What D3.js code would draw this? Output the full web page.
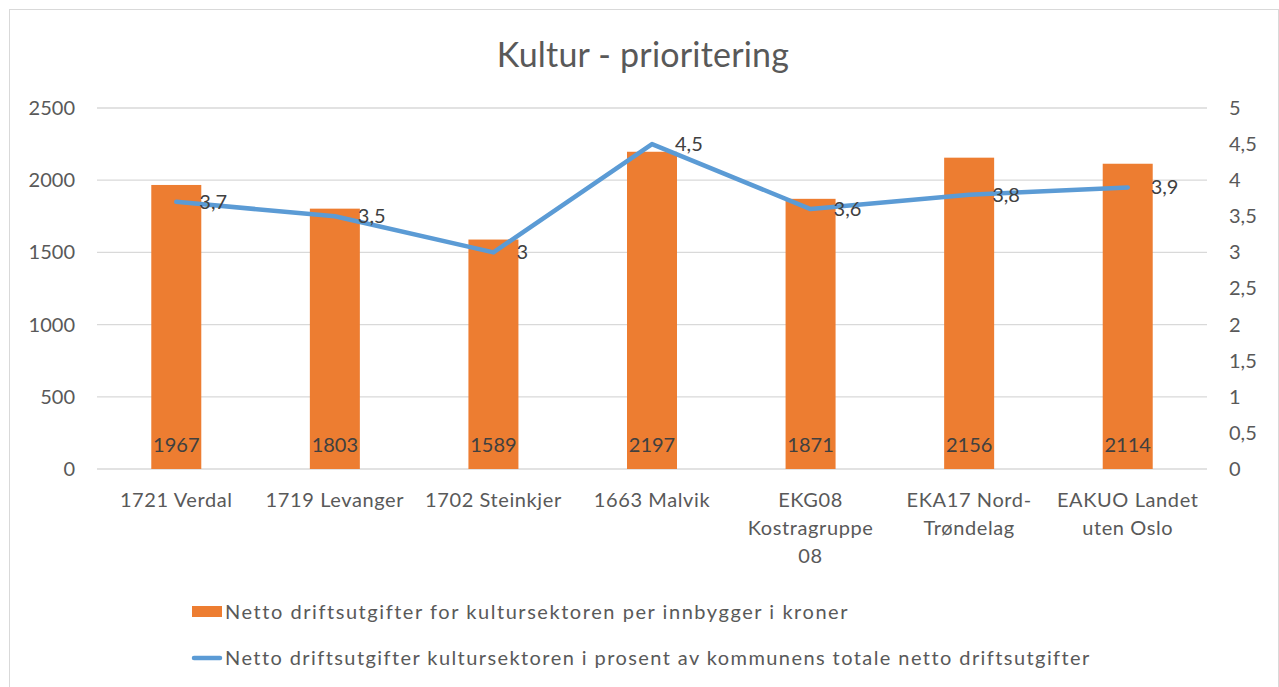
<!DOCTYPE html>
<html>
<head>
<meta charset="utf-8">
<script src="https://cdn.jsdelivr.net/npm/d3@7"></script>
<style>
  body { margin: 0; background: #fff; }
  text { font-family: "Lato", "Open Sans", sans-serif; fill: #595959; }
</style>
</head>
<body>
<script>
(function() {

	// data
	var categories = ["1721 Verdal", "1719 Levanger", "1702 Steinkjer", "1663 Malvik",
		"EKG08 Kostragruppe 08", "EKA17 Nord-Trøndelag", "EAKUO Landet uten Oslo"];
	var kroner = [1967, 1803, 1589, 2197, 1871, 2156, 2114];
	var prosent = [3.7, 3.5, 3.0, 4.5, 3.6, 3.8, 3.9];
	var leftTicks = [0, 500, 1000, 1500, 2000, 2500];
	var rightTicks = [0, 0.5, 1, 1.5, 2, 2.5, 3, 3.5, 4, 4.5, 5];
	var seriesNames = ["Netto driftsutgifter for kultursektoren per innbygger i kroner",
		"Netto driftsutgifter kultursektoren i prosent av kommunens totale netto driftsutgifter"];

	var W = 1279, H = 687;
	var margin = {top: 108, right: 72, bottom: 218, left: 97};
	var width = W - margin.left - margin.right;
	var height = H - margin.top - margin.bottom;

	var comma = function(v) { return String(v).replace(".", ","); };

	var svg = d3.select("body").append("svg")
		.attr("width", W)
		.attr("height", H);

	// chart border
	svg.append("rect")
		.attr("x", 9.5).attr("y", 9.5)
		.attr("width", W - 10).attr("height", H)
		.attr("fill", "none")
		.attr("stroke", "#d9d9d9");

	svg.append("text")
		.attr("x", 643).attr("y", 67)
		.attr("text-anchor", "middle")
		.style("font-size", "34px")
		.style("letter-spacing", "0.2px")
		.text("Kultur - prioritering");

	var g = svg.append("g")
		.attr("transform", "translate(" + margin.left + "," + margin.top + ")");

	var x = d3.scaleBand().range([0, width]).domain(categories);
	var y = d3.scaleLinear().range([height, 0]).domain([0, 2500]);
	var y2 = d3.scaleLinear().range([height, 0]).domain([0, 5]);

	// gridlines
	g.selectAll(".grid")
		.data(leftTicks)
	.enter().append("line")
		.attr("x1", 0).attr("x2", width)
		.attr("y1", function(d) { return y(d); })
		.attr("y2", function(d) { return y(d); })
		.attr("stroke", "#d9d9d9")
		.attr("stroke-width", 1.3);

	// left axis
	var yAxis = d3.axisLeft(y).tickValues(leftTicks).tickSize(0).tickPadding(22)
		.tickFormat(d3.format("d"));
	var yg = g.append("g").call(yAxis);
	yg.select(".domain").remove();
	yg.selectAll("text").style("font-size", "20px").style("fill", "#595959")
		.style("font-family", "Lato");

	// right axis
	var y2Axis = d3.axisRight(y2).tickValues(rightTicks).tickSize(0).tickPadding(22)
		.tickFormat(comma);
	var y2g = g.append("g").attr("transform", "translate(" + width + ",0)").call(y2Axis);
	y2g.select(".domain").remove();
	y2g.selectAll("text").style("font-size", "20px").style("fill", "#595959")
		.style("font-family", "Lato");

	// x axis labels
	var xAxis = d3.axisBottom(x).tickSize(0).tickPadding(24);
	var xg = g.append("g").attr("transform", "translate(0," + height + ")").call(xAxis);
	xg.select(".domain").remove();
	xg.selectAll("text")
		.style("font-size", "20px").style("fill", "#595959")
		.style("font-family", "Lato")
		.style("letter-spacing", "0.6px")
		.call(wrap, 142);

	// bars
	var barW = 50;
	g.selectAll(".bar")
		.data(kroner)
	.enter().append("rect")
		.attr("x", function(d, i) { return x(categories[i]) + x.bandwidth() / 2 - barW / 2; })
		.attr("y", function(d) { return y(d); })
		.attr("width", barW)
		.attr("height", function(d) { return height - y(d); })
		.attr("fill", "#ed7d31");

	g.selectAll(".barlabel")
		.data(kroner)
	.enter().append("text")
		.attr("x", function(d, i) { return x(categories[i]) + x.bandwidth() / 2; })
		.attr("y", height - 17)
		.attr("text-anchor", "middle")
		.style("font-size", "20px")
		.style("fill", "#404040")
		.text(function(d) { return d; });

	// line
	var line = d3.line()
		.x(function(d, i) { return x(categories[i]) + x.bandwidth() / 2; })
		.y(function(d) { return y2(d); });

	g.append("path")
		.datum(prosent)
		.attr("d", line)
		.attr("fill", "none")
		.attr("stroke", "#5b9bd5")
		.attr("stroke-width", 4.5)
		.attr("stroke-linecap", "round")
		.attr("stroke-linejoin", "round");

	g.selectAll(".linelabel")
		.data(prosent)
	.enter().append("text")
		.attr("x", function(d, i) { return x(categories[i]) + x.bandwidth() / 2 + 23; })
		.attr("y", function(d) { return y2(d); })
		.attr("dy", ".35em")
		.style("font-size", "20px")
		.style("fill", "#404040")
		.text(function(d) { return comma(d); });

	// legend
	var legend = svg.append("g");
	legend.append("rect")
		.attr("x", 192).attr("y", 606)
		.attr("width", 30).attr("height", 11)
		.attr("fill", "#ed7d31");
	legend.append("text")
		.attr("x", 225).attr("y", 612).attr("dy", ".35em")
		.style("font-size", "20px")
		.style("letter-spacing", "1.55px")
		.text(seriesNames[0]);
	legend.append("line")
		.attr("x1", 194).attr("x2", 220)
		.attr("y1", 658).attr("y2", 658)
		.attr("stroke", "#5b9bd5")
		.attr("stroke-width", 4.5)
		.attr("stroke-linecap", "round");
	legend.append("text")
		.attr("x", 225).attr("y", 658).attr("dy", ".35em")
		.style("font-size", "20px")
		.style("letter-spacing", "1.42px")
		.text(seriesNames[1]);

	// wrap tick labels on spaces and after hyphens
	function wrap(text, w) {
		text.each(function() {
			var t = d3.select(this);
			var words = t.text().replace(/-/g, "- ").split(/\s+/);
			var yy = t.attr("y");
			var dy = parseFloat(t.attr("dy"));
			var n = 0;
			var cur = "";
			var join = function(a, b) { return a === "" ? b : (/-$/.test(a) ? a + b : a + " " + b); };
			var tspan = t.text(null).append("tspan").attr("x", 0).attr("y", yy).attr("dy", dy + "em");
			words.forEach(function(word) {
				var next = join(cur, word);
				tspan.text(next);
				if (tspan.node().getComputedTextLength() > w && cur !== "") {
					tspan.text(cur);
					cur = word;
					n++;
					tspan = t.append("tspan").attr("x", 0).attr("y", yy)
						.attr("dy", (dy + n * 1.4) + "em").text(word);
				} else {
					cur = next;
				}
			});
		});
	}

})();
</script>
</body>
</html>
